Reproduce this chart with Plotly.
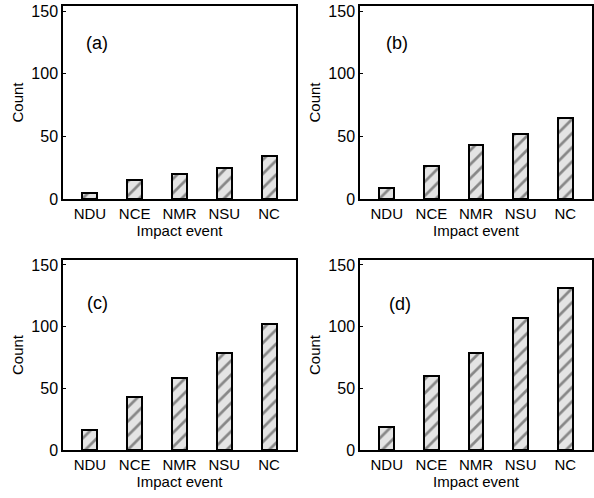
import plotly.graph_objects as go
from plotly.subplots import make_subplots

categories = ["NDU", "NCE", "NMR", "NSU", "NC"]
counts_a = [5, 15, 20, 25, 34]
counts_b = [9, 26, 43, 52, 65]
counts_c = [16, 43, 58, 79, 102]
counts_d = [19, 60, 79, 107, 131]
panel_labels = ["(a)", "(b)", "(c)", "(d)"]
y_ticks = [0, 50, 100, 150]

W, H = 594, 498
fig = make_subplots(rows=2, cols=2)

series = [counts_a, counts_b, counts_c, counts_d]
pos = [(1, 1), (1, 2), (2, 1), (2, 2)]
for vals, (r, c) in zip(series, pos):
    fig.add_trace(go.Bar(
        x=categories, y=vals, width=0.33,
        marker=dict(
            color="#e6e6e6",
            line=dict(color="black", width=2),
            pattern=dict(shape="/", fgcolor="#2a2a2a", bgcolor="#e4e4e4",
                         size=10, solidity=0.27),
        ),
        showlegend=False,
    ), row=r, col=c)

xdom = [[63 / W, 296 / W], [360 / W, 592 / W]]
ydom = [[1 - 199 / H, 1 - 6 / H], [1 - 450 / H, 1 - 260 / H]]
font = "Liberation Sans, Arial, sans-serif"

for i, (r, c) in enumerate(pos):
    idx = "" if i == 0 else str(i + 1)
    fig.layout["xaxis" + idx].update(
        domain=xdom[c - 1], range=[-0.6, 4.6], showline=True, mirror=True,
        linecolor="black", linewidth=1.5, ticks="", showgrid=False, automargin=False,
        tickfont=dict(size=15, color="black", family=font),
        title=dict(text="Impact event", font=dict(size=15, color="black", family=font), standoff=2),
    )
    fig.layout["yaxis" + idx].update(
        domain=ydom[r - 1], range=[0, 154], showline=True, mirror=True,
        linecolor="black", linewidth=1.5, ticks="inside", ticklen=3, automargin=False,
        tickcolor="black", tickvals=y_ticks, showgrid=False, zeroline=False,
        tickfont=dict(size=16, color="black", family=font),
        title=dict(text="Count", font=dict(size=15, color="black", family=font), standoff=4),
    )

label_pos = [(97, 43), (397, 43), (97, 303), (400, 304)]
for lab, (px, py) in zip(panel_labels, label_pos):
    fig.add_annotation(text=lab, x=px / W, y=1 - py / H, xref="paper", yref="paper",
                       xanchor="center", yanchor="middle",
                       showarrow=False, font=dict(size=18, color="black", family=font))

fig.update_layout(
    width=W, height=H, margin=dict(l=0, r=0, t=0, b=0),
    plot_bgcolor="white", paper_bgcolor="white", bargap=0,
)
fig.write_html("out.html", config={"displayModeBar": False},
               post_script="document.body.style.margin='0';")
